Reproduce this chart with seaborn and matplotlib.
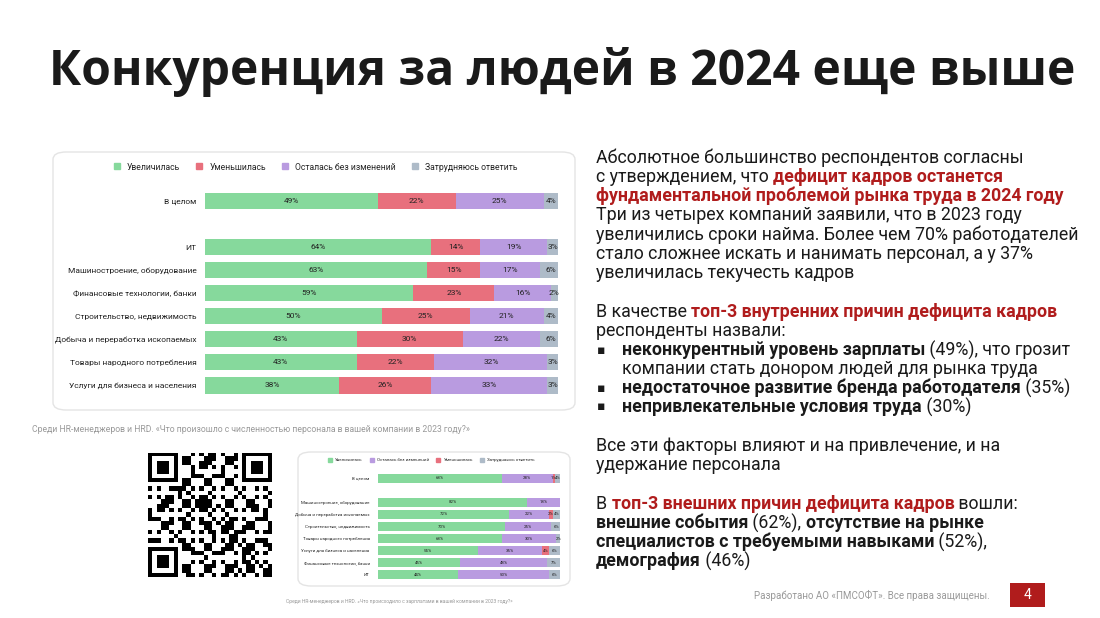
import matplotlib
matplotlib.use("Agg")
import matplotlib.pyplot as plt
import seaborn as sns
import numpy as np
import pandas as pd
from matplotlib.patches import FancyBboxPatch, Rectangle
from matplotlib.lines import Line2D

sns.set_theme(style="white")
plt.rcParams['font.family'] = ['Roboto', 'DejaVu Sans']

# ---------- data: main chart ----------
main_cats = ["В целом", "ИТ", "Машиностроение, оборудование", "Финансовые технологии, банки",
             "Строительство, недвижимость", "Добыча и переработка ископаемых",
             "Товары народного потребления", "Услуги для бизнеса и населения"]
main_pos = [0, 2, 3, 4, 5, 6, 7, 8]
main_series = ["Увеличилась", "Уменьшилась", "Осталась без изменений", "Затрудняюсь ответить"]
main_inc = [49, 64, 63, 59, 50, 43, 43, 38]
main_dec = [22, 14, 15, 23, 25, 30, 22, 26]
main_same = [25, 19, 17, 16, 21, 22, 32, 33]
main_hard = [4, 3, 6, 2, 4, 6, 3, 3]

# ---------- data: small chart ----------
small_cats = ["В целом", "Машиностроение, оборудование", "Добыча и переработка ископаемых",
              "Строительство, недвижимость", "Товары народного потребления",
              "Услуги для бизнеса и населения", "Финансовые технологии, банки", "ИТ"]
small_pos = [0, 2, 3, 4, 5, 6, 7, 8]
small_series = ["Увеличилась", "Осталась без изменений", "Уменьшилась", "Затрудняюсь ответить"]
small_inc = [68, 82, 72, 70, 68, 55, 45, 44]
small_same = [28, 18, 22, 25, 30, 35, 48, 50]
small_dec = [1, 0, 2, 0, 0, 4, 0, 0]
small_hard = [4, 0, 4, 6, 2, 6, 7, 6]

GREEN, RED, PURPLE, GRAY = "#86d99c", "#e8707d", "#b99be0", "#aebbc8"

W, H = 1100, 618
fig = plt.figure(figsize=(11, 6.18), dpi=100)
fig.patch.set_facecolor("white")

def fx(px): return px / W
def fy(py): return 1 - py / H

def card(x0, y0, x1, y1):
    p = FancyBboxPatch((fx(x0), fy(y1)), fx(x1 - x0), (y1 - y0) / H,
                       boxstyle="round,pad=0,rounding_size=0.012", transform=fig.transFigure,
                       facecolor="white", edgecolor="#e4e4e4", linewidth=1.0, zorder=-10)
    fig.patches.append(p)

def stacked(ax, cats, pos, vals, colors, fs, width):
    df = pd.DataFrame({"pos": pos})
    cum = np.zeros(len(pos))
    cums = []
    for v in vals:
        cum = cum + np.array(v)
        cums.append(cum.copy())
    for k in range(len(vals) - 1, -1, -1):
        d = df.copy(); d["v"] = cums[k]
        sns.barplot(data=d, x="v", y="pos", orient="h", native_scale=True, color=colors[k],
                    saturation=1, width=width, ax=ax, linewidth=0, errorbar=None)
    for k, v in enumerate(vals):
        start = cums[k] - np.array(v)
        for i, val in enumerate(v):
            if val > 0:
                ax.text(start[i] + val / 2, pos[i], f"{val}%", ha="center", va="center",
                        fontsize=fs, color="#222222")
    ax.set_xlim(0, 100)
    ax.set_ylim(max(pos) + 0.5, min(pos) - 0.5)
    ax.set_yticks(pos)
    ax.set_yticklabels(cats, fontsize=fs, color="#222222")
    ax.set_xticks([])
    ax.set_xlabel(""); ax.set_ylabel("")
    ax.tick_params(axis="y", length=0, pad=6)
    sns.despine(ax=ax, left=True, bottom=True)
    ax.patch.set_alpha(0)

# ---------- main chart ----------
card(53, 152, 575, 410)
ax1 = fig.add_axes([fx(205), fy(397), fx(558 - 205), (397 - 189.5) / H])
stacked(ax1, main_cats, main_pos, [main_inc, main_dec, main_same, main_hard],
        [GREEN, RED, PURPLE, GRAY], 6.0, 0.7)
h1 = [Line2D([], [], marker="s", ls="", color=c, markersize=5) for c in [GREEN, RED, PURPLE, GRAY]]
fig.legend(h1, main_series, loc="center", bbox_to_anchor=(fx(313), fy(167)), ncol=4, frameon=False,
           fontsize=6.2, handletextpad=0.2, columnspacing=1.2)
fig.text(fx(32), fy(430), "Среди HR-менеджеров и HRD. «Что произошло с численностью персонала в вашей компании в 2023 году?»",
         fontsize=6.2, color="#999999", va="center")

# ---------- small chart ----------
card(298, 452, 570, 586)
ax2 = fig.add_axes([fx(378), fy(581), fx(560 - 378), (581 - 472) / H])
stacked(ax2, small_cats, small_pos, [small_inc, small_same, small_dec, small_hard],
        [GREEN, PURPLE, RED, GRAY], 3.2, 0.75)
h2 = [Line2D([], [], marker="s", ls="", color=c, markersize=2.5) for c in [GREEN, PURPLE, RED, GRAY]]
fig.legend(h2, small_series, loc="center", bbox_to_anchor=(fx(430), fy(460)), ncol=4, frameon=False,
           fontsize=3.2, handletextpad=0.2, columnspacing=1.0)
fig.text(fx(286), fy(601), "Среди HR-менеджеров и HRD. «Что происходило с зарплатами в вашей компании в 2023 году?»",
         fontsize=3.6, color="#999999", va="center")

# ---------- QR code (decorative) ----------
axq = fig.add_axes([fx(148), fy(578), fx(124), 126 / H])
n = 29
g = np.zeros((n, n))
for i in range(n):
    for j in range(n):
        g[i, j] = ((i * 7 + j * 13 + i * j * 3) % 5 < 2) or ((i ^ j) % 7 == 0)
def finder(r, c):
    g[r:r + 7, c:c + 7] = 1
    g[r + 1:r + 6, c + 1:c + 6] = 0
    g[r + 2:r + 5, c + 2:c + 5] = 1
for r, c in [(0, 0), (0, n - 7), (n - 7, 0)]:
    g[max(r - 1, 0):min(r + 8, n), max(c - 1, 0):min(c + 8, n)] = 0
    finder(r, c)
axq.imshow(g, cmap="Greys", interpolation="nearest")
axq.axis("off")

# ---------- title ----------
fig.text(fx(562), fy(72), "Конкуренция за людей в 2024 еще выше", fontsize=34.6, fontweight="bold",
         color="#1a1a1a", ha="center", va="center", family=["Open Sans", "DejaVu Sans"])

# ---------- right text ----------
renderer = fig.canvas.get_renderer()
DARK, REDT = "#1a1a1a", "#b01c1c"
FS = 12.8
def runs(x, y, parts):
    for txt, kind in parts:
        bold = kind in ("b", "r")
        color = REDT if kind == "r" else DARK
        t = fig.text(fx(x), fy(y), txt, fontsize=FS, fontweight="bold" if bold else "normal",
                     color=color, va="center", ha="left")
        x += t.get_window_extent(renderer).width

lines = [
    (596, 158, [("Абсолютное большинство респондентов согласны", "n")]),
    (596, 177, [("с утверждением, что ", "n"), ("дефицит кадров останется", "r")]),
    (596, 196, [("фундаментальной проблемой рынка труда в 2024 году", "r")]),
    (596, 215, [("Три из четырех компаний заявили, что в 2023 году", "n")]),
    (596, 235, [("увеличились сроки найма. Более чем 70% работодателей", "n")]),
    (596, 254, [("стало сложнее искать и нанимать персонал, а у 37%", "n")]),
    (596, 273, [("увеличилась текучесть кадров", "n")]),
    (596, 312, [("В качестве ", "n"), ("топ-3 внутренних причин дефицита кадров", "r")]),
    (596, 331, [("респонденты назвали:", "n")]),
    (622, 350, [("неконкурентный уровень зарплаты", "b"), (" (49%), что грозит", "n")]),
    (622, 369, [("компании стать донором людей для рынка труда", "n")]),
    (622, 388, [("недостаточное развитие бренда работодателя", "b"), (" (35%)", "n")]),
    (622, 407, [("непривлекательные условия труда", "b"), (" (30%)", "n")]),
    (596, 446, [("Все эти факторы влияют и на привлечение, и на", "n")]),
    (596, 465, [("удержание персонала", "n")]),
    (596, 504, [("В ", "n"), ("топ-3 внешних причин дефицита кадров", "r"), (" вошли:", "n")]),
    (596, 523, [("внешние события", "b"), (" (62%), ", "n"), ("отсутствие на рынке", "b")]),
    (596, 542, [("специалистов с требуемыми навыками", "b"), (" (52%),", "n")]),
    (596, 561, [("демография", "b"), (" (46%)", "n")]),
]
for x, y, parts in lines:
    runs(x, y, parts)
for y in (350, 388, 407):
    fig.text(fx(597), fy(y), "▪", fontsize=9, color=DARK, va="center", family=["DejaVu Sans"])

# ---------- footer ----------
fig.text(fx(990), fy(595), "Разработано АО «ПМСОФТ». Все права защищены.", fontsize=7,
         color="#999999", ha="right", va="center")
fig.patches.append(Rectangle((fx(1010), fy(607)), fx(35), 24 / H, transform=fig.transFigure,
                             facecolor="#b01c1c", edgecolor="none"))
fig.text(fx(1027.5), fy(595), "4", fontsize=10, color="white", ha="center", va="center")

fig.savefig("out.png", dpi=100)
